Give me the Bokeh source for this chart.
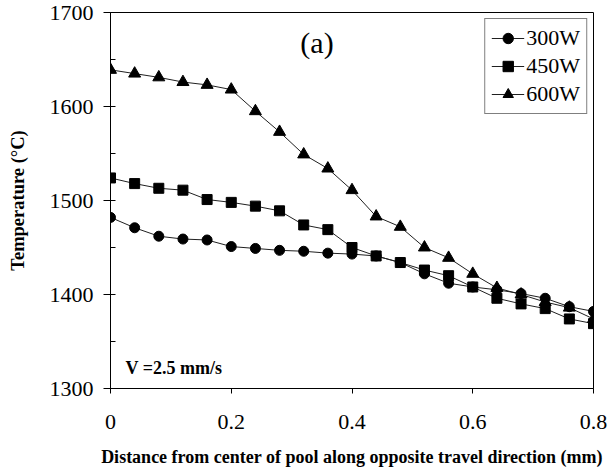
from bokeh.plotting import figure
from bokeh.models import Range1d, FixedTicker, SingleIntervalTicker, CustomJSTickFormatter, Legend
from bokeh.core.properties import value
from bokeh.embed import file_html
from bokeh.resources import INLINE

# Data
distance = [0.0, 0.04, 0.08, 0.12, 0.16, 0.20, 0.24, 0.28, 0.32, 0.36, 0.40,
            0.44, 0.48, 0.52, 0.56, 0.60, 0.64, 0.68, 0.72, 0.76, 0.80]
temp_300w = [1482, 1471, 1462, 1459, 1458, 1451, 1449, 1447, 1446, 1444, 1443,
             1441, 1434, 1422, 1412, 1408, 1405, 1401, 1396, 1387, 1382]
temp_450w = [1524, 1518, 1513, 1511, 1501, 1498, 1494, 1489, 1474, 1469, 1450,
             1441, 1434, 1426, 1420, 1408, 1396, 1390, 1385, 1374, 1369]
temp_600w = [1639, 1635, 1631, 1626, 1623, 1618, 1595, 1573, 1549, 1534, 1511,
             1483, 1472, 1450, 1439, 1422, 1407, 1400, 1392, 1386, 1374]
series_labels = ["300W", "450W", "600W"]
x_ticks = [0, 0.2, 0.4, 0.6, 0.8]
panel_label = "(a)"
speed_label = "V =2.5 mm/s"

SERIF = "Liberation Serif"

p = figure(width=608, height=473, output_backend="svg", toolbar_location=None,
           x_range=Range1d(0, 0.8), y_range=Range1d(1300, 1700),
           min_border_left=110, min_border_right=15, min_border_top=12,
           min_border_bottom=85)
p.xgrid.visible = False
p.ygrid.visible = False
p.outline_line_color = "black"
p.outline_line_width = 1
p.background_fill_color = "white"
p.border_fill_color = "white"

markers = ["circle", "square", "triangle"]
sizes = [10, 10, 12]
legend_sizes = [8, 8, 10]
items = []
for ys, lab, mk, sz, lsz in zip([temp_300w, temp_450w, temp_600w], series_labels,
                                markers, sizes, legend_sizes):
    r_line = p.line(distance, ys, line_color="#202020", line_width=1)
    p.scatter(distance, ys, marker=mk, size=sz, fill_color="black", line_color="black")
    # smaller marker (hidden under the first plotted marker) used for the legend swatch
    r_leg = p.scatter(distance[:1], ys[:1], marker=mk, size=lsz,
                      fill_color="black", line_color="black")
    items.append((lab, [r_line, r_leg]))

legend = Legend(items=items, location="top_right")
legend.label_text_font = SERIF
legend.label_text_font_size = "22px"
legend.label_text_color = "black"
legend.glyph_width = 33
legend.glyph_height = 26
legend.label_height = 26
legend.label_standoff = 2
legend.spacing = 2
legend.padding = 6
legend.margin = 6
legend.border_line_color = "black"
legend.border_line_width = 1
legend.background_fill_alpha = 1.0
p.add_layout(legend)

# Axes
xa = p.xaxis[0]
xa.ticker = FixedTicker(ticks=x_ticks, minor_ticks=[])
xa.formatter = CustomJSTickFormatter(code="return String(Math.round(tick*10)/10);")
xa.axis_label = "Distance from center of pool along opposite travel direction (mm)"
xa.axis_label_text_font = SERIF
xa.axis_label_text_font_style = "bold"
xa.axis_label_text_font_size = "18px"
xa.axis_label_text_color = "black"
xa.axis_label_standoff = 15
xa.major_label_text_font = SERIF
xa.major_label_text_font_size = "22px"
xa.major_label_text_color = "black"
xa.major_label_standoff = 21
xa.major_tick_out = 5
xa.major_tick_in = 0
xa.minor_tick_out = 0
xa.minor_tick_in = 0
xa.axis_line_color = "black"
xa.major_tick_line_color = "black"

ya = p.yaxis[0]
ya.ticker = SingleIntervalTicker(interval=100, num_minor_ticks=2)
ya.axis_label = "Temperature (°C)"
ya.axis_label_text_font = SERIF
ya.axis_label_text_font_style = "bold"
ya.axis_label_text_font_size = "18.5px"
ya.axis_label_text_color = "black"
ya.axis_label_standoff = 19
ya.major_label_text_font = SERIF
ya.major_label_text_font_size = "22px"
ya.major_label_text_color = "black"
ya.major_label_standoff = 10
ya.major_tick_out = 7
ya.major_tick_in = 0
ya.minor_tick_out = 0
ya.minor_tick_in = 5
ya.axis_line_color = "black"
ya.major_tick_line_color = "black"
ya.minor_tick_line_color = "black"

# Annotations
p.text(x=[0.342], y=[1668], text=[panel_label], text_font=value(SERIF),
       text_font_size="30px", text_align="center", text_baseline="middle",
       text_color="black")
p.text(x=[0.025], y=[1322], text=[speed_label], text_font=value(SERIF),
       text_font_size="18px", text_font_style="bold", text_align="left",
       text_baseline="middle", text_color="black")

open("out.html", "w").write(file_html(p, INLINE))
